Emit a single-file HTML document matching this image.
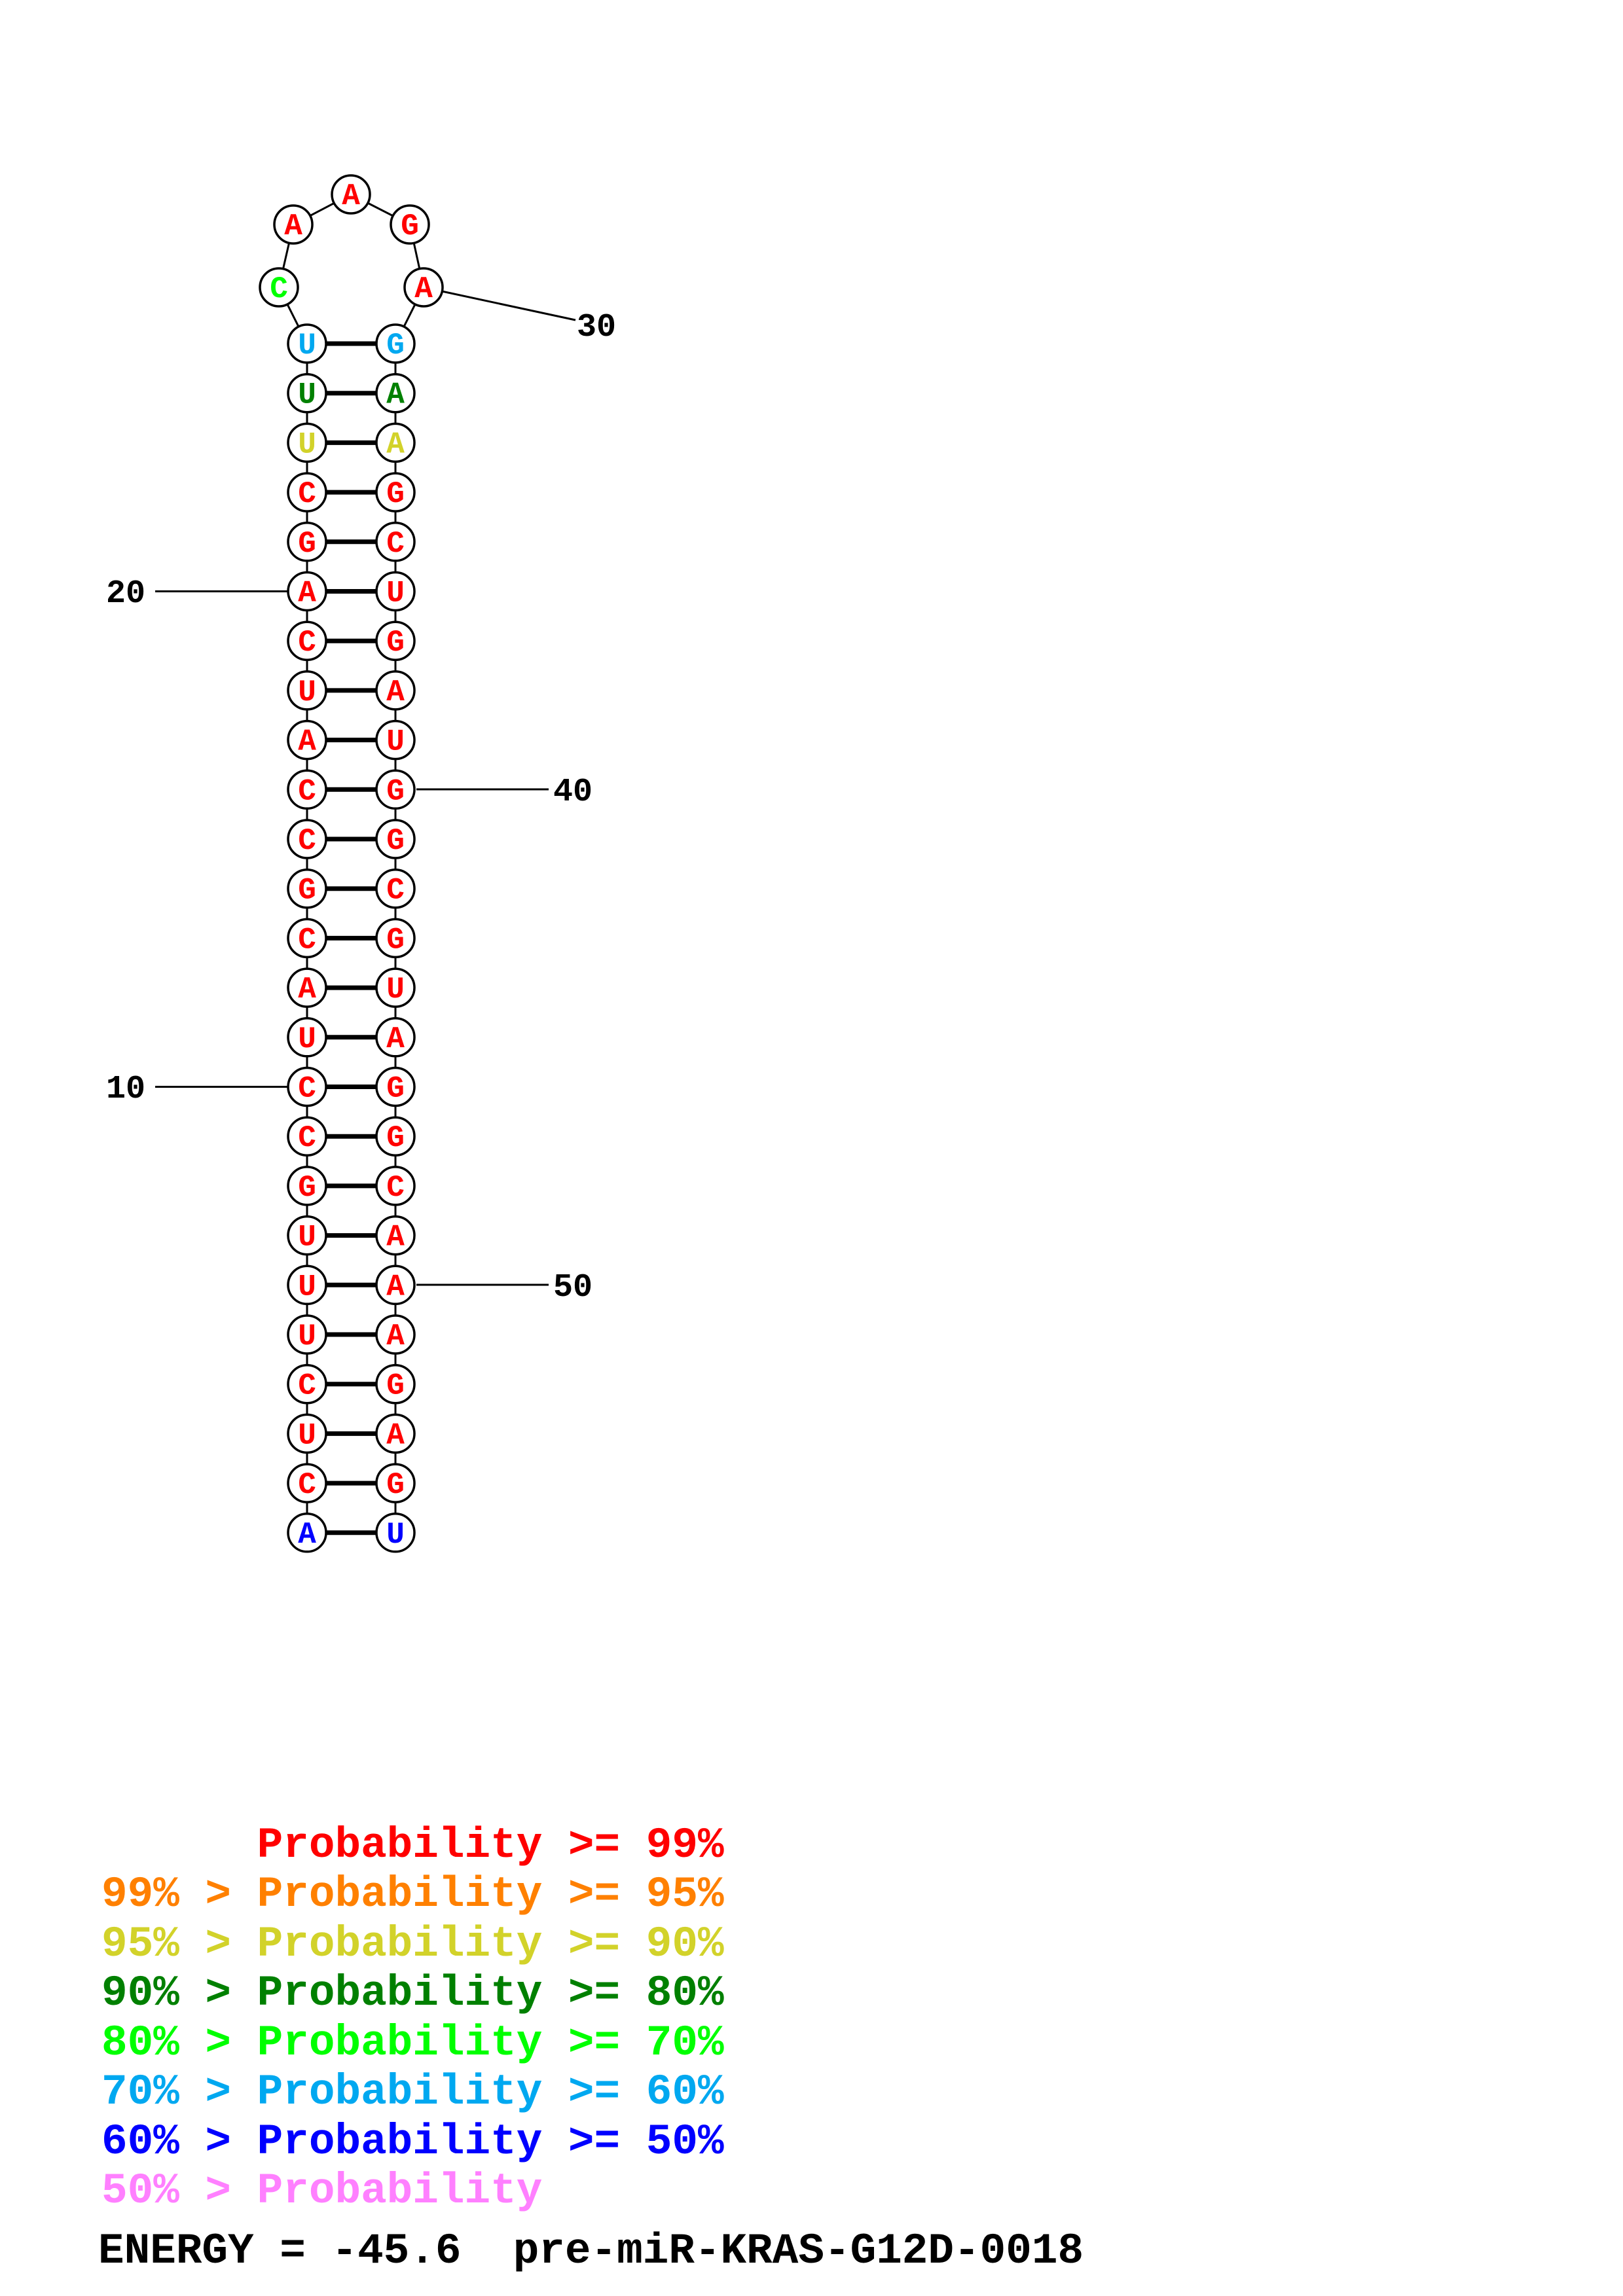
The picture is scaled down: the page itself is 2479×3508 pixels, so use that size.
<!DOCTYPE html>
<html><head><meta charset="utf-8"><style>
html,body{margin:0;padding:0;background:#fff}
svg{display:block}
text{white-space:pre}
</style></head><body>
<svg width="2479" height="3508" viewBox="0 0 2479 3508" xmlns="http://www.w3.org/2000/svg">
<g stroke="#000" stroke-width="3" fill="none">
<line x1="469" y1="525" x2="469" y2="2342"/>
<line x1="604" y1="525" x2="604" y2="2342"/>
<polyline points="469,525 426,439 448,343 536,297 626,343 647,439 604,525"/>
<line x1="647" y1="439" x2="879" y2="489"/>
<line x1="237" y1="903.5" x2="441" y2="903.5"/>
<line x1="237" y1="1660.5" x2="441" y2="1660.5"/>
<line x1="636" y1="1206" x2="838" y2="1206"/>
<line x1="636" y1="1963" x2="838" y2="1963"/>
</g>
<g id="pairs" stroke="#000" stroke-width="7"></g>
<g id="nodes"></g>
<g font-family="Liberation Mono, monospace" font-weight="bold" font-size="50" fill="#000">
<text x="881" y="513">30</text>
<text x="162" y="920">20</text>
<text x="162" y="1677">10</text>
<text x="845" y="1223">40</text>
<text x="845" y="1980">50</text>
</g>
<g font-family="Liberation Mono, monospace" font-weight="bold" font-size="66">
<text x="155" y="2837" fill="#ff0000">      Probability &gt;= 99%</text>
<text x="155" y="2912" fill="#ff8000">99% &gt; Probability &gt;= 95%</text>
<text x="155" y="2988" fill="#d2d22a">95% &gt; Probability &gt;= 90%</text>
<text x="155" y="3063" fill="#008000">90% &gt; Probability &gt;= 80%</text>
<text x="155" y="3139" fill="#00ff00">80% &gt; Probability &gt;= 70%</text>
<text x="155" y="3214" fill="#00a8f0">70% &gt; Probability &gt;= 60%</text>
<text x="155" y="3290" fill="#0000ff">60% &gt; Probability &gt;= 50%</text>
<text x="155" y="3365" fill="#ff80ff">50% &gt; Probability</text>
<text x="150" y="3457" fill="#000">ENERGY = -45.6  pre-miR-KRAS-G12D-0018</text>
</g>
</svg>
<script>
const L="UUUCGACUACCGCAUCCGUUUCUCA",R="GAAGCUGAUGGCGUAGGCAAAGAGU";
const ns="http://www.w3.org/2000/svg";
const P=document.getElementById("pairs"),N=document.getElementById("nodes");
function col(i){return i==0?"#00a8f0":i==1?"#008000":i==2?"#d2d22a":i==24?"#0000ff":"#ff0000";}
function node(x,y,ch,c){
 const ci=document.createElementNS(ns,"circle");
 ci.setAttribute("cx",x);ci.setAttribute("cy",y);ci.setAttribute("r",29);
 ci.setAttribute("fill","#fff");ci.setAttribute("stroke","#000");ci.setAttribute("stroke-width","3.5");
 N.appendChild(ci);
 const t=document.createElementNS(ns,"text");
 t.setAttribute("x",x);t.setAttribute("y",y+15);t.setAttribute("text-anchor","middle");
 t.setAttribute("font-family","Liberation Mono, monospace");t.setAttribute("font-weight","bold");
 t.setAttribute("font-size","46");t.setAttribute("fill",c);t.textContent=ch;N.appendChild(t);
}
for(let i=0;i<25;i++){
 const y=525+i*75.7;
 const l=document.createElementNS(ns,"line");
 l.setAttribute("x1",469);l.setAttribute("x2",604);l.setAttribute("y1",y);l.setAttribute("y2",y);
 P.appendChild(l);
 node(469,y,L[i],col(i));node(604,y,R[i],col(i));
}
node(426,439,"C","#00ff00");node(448,343,"A","#ff0000");node(536,297,"A","#ff0000");
node(626,343,"G","#ff0000");node(647,439,"A","#ff0000");
</script>
</body></html>
